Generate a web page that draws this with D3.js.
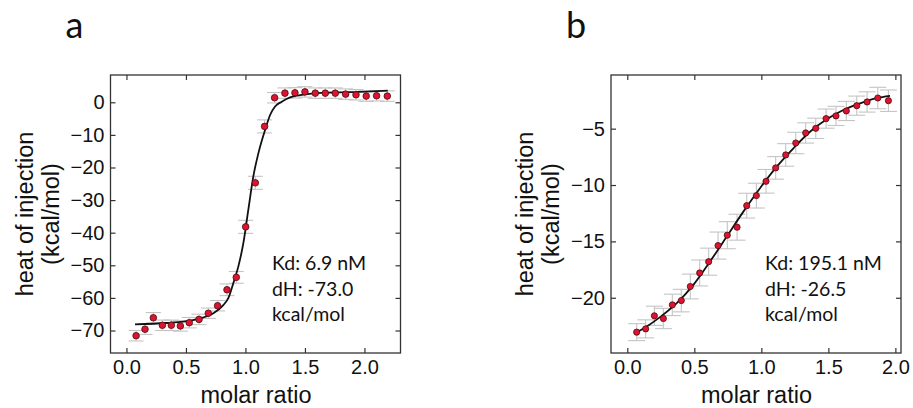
<!DOCTYPE html>
<html>
<head>
<meta charset="utf-8">
<script src="https://cdn.jsdelivr.net/npm/d3@7"></script>
<style>
  body { margin: 0; background: #fff; }
  svg { display: block; }
  text { font-family: "Liberation Sans", Arial, sans-serif; fill: #111; }
  .note { font-family: Lato, "Open Sans", sans-serif; }
  .tick line { stroke: #333; stroke-width: 1.2; }
</style>
</head>
<body>
<svg width="913" height="408"></svg>
<script>
// panel a - measured points (molar ratio, kcal/mol)
const ratioA = [0.081,0.156,0.226,0.302,0.377,0.453,0.528,0.610,0.688,0.766,0.845,0.923,1.002,1.083,1.161,1.245,1.332,1.416,1.500,1.587,1.671,1.755,1.842,1.929,2.015,2.102,2.192];
const heatA  = [-71.6,-69.6,-66.1,-68.4,-68.4,-68.6,-67.6,-66.6,-64.7,-62.4,-57.5,-53.7,-38.2,-24.7,-7.4,1.4,2.8,2.9,3.2,2.8,2.8,2.8,2.5,2.3,1.9,2.0,1.9];
const errA   = [1.6,1.6,1.6,1.6,1.6,1.6,1.6,1.6,1.6,1.6,1.8,1.8,2.0,2.0,2.0,1.6,1.6,1.6,1.6,1.6,1.6,1.6,1.6,1.6,1.6,1.6,1.6];
// panel a - fitted curve
const fitRatioA = [0.072,0.339,0.478,0.618,0.730,0.814,0.856,0.898,0.940,0.982,1.024,1.066,1.109,1.165,1.207,1.249,1.305,1.375,1.459,1.599,1.739,2.019,2.196];
const fitHeatA  = [-68.1,-67.7,-67.3,-66.3,-64.7,-62.2,-60.1,-55.5,-50.4,-43.3,-33.0,-22.8,-15.6,-8.5,-3.9,-1.3,0.2,1.5,2.2,2.8,3.0,3.3,3.6];

// panel b
const ratioB = [0.070,0.137,0.202,0.269,0.336,0.403,0.470,0.540,0.607,0.677,0.746,0.819,0.891,0.963,1.035,1.107,1.182,1.257,1.331,1.406,1.483,1.557,1.634,1.712,1.789,1.869,1.948];
const heatB  = [-23.05,-22.76,-21.6,-21.84,-20.63,-20.25,-19.0,-17.8,-16.8,-15.37,-14.45,-13.74,-11.83,-10.94,-9.67,-8.48,-7.33,-6.27,-5.38,-4.97,-4.11,-3.87,-3.43,-2.96,-2.63,-2.28,-2.52];
const errB   = [0.75,0.8,0.85,0.9,0.95,1.0,1.1,1.15,1.2,1.2,1.2,1.15,1.1,1.1,1.05,1.0,1.0,0.95,0.9,0.9,0.85,0.85,0.85,0.85,0.9,0.95,0.95];
const fitRatioB = [0.057,0.145,0.244,0.369,0.493,0.617,0.742,0.866,0.990,1.115,1.239,1.363,1.488,1.612,1.737,1.861,1.960];
const fitHeatB  = [-23.14,-22.55,-21.72,-20.48,-18.86,-16.79,-14.57,-12.36,-10.28,-8.37,-6.74,-5.27,-4.17,-3.34,-2.75,-2.30,-2.10];

const xTicks = [0, 0.5, 1.0, 1.5, 2.0];
const yTicksA = [0,-10,-20,-30,-40,-50,-60,-70];
const yTicksB = [-5,-10,-15,-20];
const notesA = ["Kd: 6.9 nM", "dH: -73.0", "kcal/mol"];
const notesB = ["Kd: 195.1 nM", "dH: -26.5", "kcal/mol"];

const svg = d3.select("svg");
const yFmt = d3.format(".0f");   // d3 uses the real minus sign

const panels = [
  {letter:"a", left:110.5, xDom:[-0.134,2.303], yDom:[-76.9,8.37], yTicks:yTicksA,
   x:ratioA, y:heatA, err:errA, fx:fitRatioA, fy:fitHeatA, notes:notesA, noteX:272, r:3.3, cap:7.5},
  {letter:"b", left:611, xDom:[-0.1216,2.042], yDom:[-24.9,-0.24], yTicks:yTicksB,
   x:ratioB, y:heatB, err:errB, fx:fitRatioB, fy:fitHeatB, notes:notesB, noteX:765, r:3.1, cap:8.5}
];

const plotTop = 75, plotBottom = 353, plotW = 290;

panels.forEach(p => {
  const g = svg.append("g");
  const xs = d3.scaleLinear().domain(p.xDom).range([p.left, p.left + plotW]);
  const ys = d3.scaleLinear().domain(p.yDom).range([plotBottom, plotTop]);

  // error bars
  const eb = g.append("g").attr("stroke", "#c4c4c4").attr("stroke-width", 1.1);
  p.x.forEach((v, i) => {
    const cx = xs(v), y1 = ys(p.y[i] + p.err[i]), y2 = ys(p.y[i] - p.err[i]);
    eb.append("line").attr("x1", cx).attr("x2", cx).attr("y1", y1).attr("y2", y2);
    eb.append("line").attr("x1", cx - p.cap).attr("x2", cx + p.cap).attr("y1", y1).attr("y2", y1);
    eb.append("line").attr("x1", cx - p.cap).attr("x2", cx + p.cap).attr("y1", y2).attr("y2", y2);
  });

  // fit
  const line = d3.line().x(d => xs(d[0])).y(d => ys(d[1])).curve(d3.curveMonotoneX);
  g.append("path").datum(d3.zip(p.fx, p.fy))
    .attr("d", line).attr("fill", "none").attr("stroke", "#111").attr("stroke-width", 1.8);

  // points
  g.selectAll("circle").data(d3.zip(p.x, p.y)).enter().append("circle")
    .attr("cx", d => xs(d[0])).attr("cy", d => ys(d[1])).attr("r", p.r)
    .attr("fill", "#dc1430").attr("stroke", "#4a0a10").attr("stroke-width", 0.8);

  // axes, ticks inside
  const ax = a => a.tickSizeInner(-5).tickSizeOuter(0);
  g.append("g").attr("transform", `translate(0,${plotBottom})`)
    .call(ax(d3.axisBottom(xs)).tickValues(xTicks).tickFormat(d3.format(".1f")).tickPadding(7))
    .call(s => s.select(".domain").remove())
    .selectAll("text").attr("font-size", 20);
  g.append("g").attr("transform", `translate(0,${plotTop})`)
    .call(ax(d3.axisTop(xs)).tickValues(xTicks).tickFormat(""))
    .call(s => s.select(".domain").remove());
  g.append("g").attr("transform", `translate(${p.left},0)`)
    .call(ax(d3.axisLeft(ys)).tickValues(p.yTicks).tickFormat(yFmt).tickPadding(6))
    .call(s => s.select(".domain").remove())
    .selectAll("text").attr("font-size", 20);
  g.append("g").attr("transform", `translate(${p.left + plotW},0)`)
    .call(ax(d3.axisRight(ys)).tickValues(p.yTicks).tickFormat(""))
    .call(s => s.select(".domain").remove());
  g.selectAll(".tick text").attr("fill", "#111").attr("font-family", '"Liberation Sans", Arial, sans-serif');

  g.append("rect").attr("x", p.left).attr("y", plotTop).attr("width", plotW).attr("height", plotBottom - plotTop)
    .attr("fill", "none").attr("stroke", "#333").attr("stroke-width", 1.3);

  // titles
  g.append("text").attr("x", p.left + plotW / 2 + 0.5).attr("y", 403).attr("text-anchor", "middle")
    .attr("font-size", 23.5).text("molar ratio");
  g.append("text").attr("transform", `translate(${p.left - 78},214) rotate(-90)`)
    .attr("text-anchor", "middle").attr("font-size", 23.5).text("heat of injection");
  g.append("text").attr("transform", `translate(${p.left - 52},214) rotate(-90)`)
    .attr("text-anchor", "middle").attr("font-size", 23.5).text("(kcal/mol)");

  // annotation
  g.append("g").selectAll("text").data(p.notes).enter().append("text")
    .attr("class", "note").attr("x", p.noteX).attr("y", (d, i) => 270 + i * 25.5)
    .attr("font-size", 19.5).text(d => d);

  // panel letter
  g.append("text").attr("class", "note").attr("x", p.left - 45).attr("y", 38)
    .attr("font-size", 36).text(p.letter);
});
</script>
</body>
</html>
